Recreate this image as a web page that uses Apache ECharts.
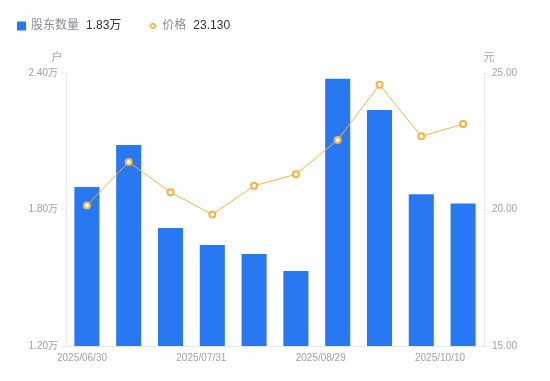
<!DOCTYPE html>
<html>
<head>
<meta charset="utf-8">
<script src="https://cdn.jsdelivr.net/npm/echarts@6/dist/echarts.min.js"></script>
<style>
html,body{margin:0;padding:0;background:#fff;}
#chart{width:550px;height:381px;}
</style>
</head>
<body>
<div id="chart"></div>
<script>
var categories = ['2025/06/30','2025/07/10','2025/07/18','2025/07/31','2025/08/08','2025/08/20','2025/08/29','2025/09/10','2025/09/19','2025/10/10'];
var holders = [1.899, 2.083, 1.719, 1.644, 1.604, 1.530, 2.375, 2.237, 1.867, 1.826];
var prices = [20.15, 21.74, 20.63, 19.82, 20.87, 21.29, 22.55, 24.57, 22.68, 23.13];
var xTickLabels = ['2025/06/30','2025/07/31','2025/08/29','2025/10/10'];
var leftTicks = {min: 1.2, max: 2.4, interval: 0.6};
var rightTicks = {min: 15, max: 25, interval: 5};

var labelColor = '#9ea2ae';
var lineColor = '#e8e9ec';
var barColor = '#2878f4';
var priceColor = '#f7b33d';
var font = 'Arial, "Liberation Sans", "Noto Sans CJK SC", sans-serif';

var lineIcon = 'path://M5,0 L5,0 Z M5,9 L5,9 Z ' +
  'M0,4 L2,4 L2,5 L0,5 Z M8,4 L10,4 L10,5 L8,5 Z ' +
  'M8.2,4.5 A3.2,3.2 0 1,0 1.8,4.5 A3.2,3.2 0 1,0 8.2,4.5 Z ' +
  'M6.5,4.5 A1.5,1.5 0 1,1 3.5,4.5 A1.5,1.5 0 1,1 6.5,4.5 Z';

var chart = echarts.init(document.getElementById('chart'));
chart.setOption({
  animation: false,
  textStyle: {fontFamily: font},
  legend: {
    left: 12,
    top: 15,
    itemWidth: 9,
    itemHeight: 9,
    itemGap: 27,
    data: [
      {name: '股东数量', icon: 'rect'},
      {name: '价格', icon: lineIcon}
    ],
    formatter: function (name) {
      var v = name === '股东数量' ? holders[holders.length - 1].toFixed(2) + '万' : prices[prices.length - 1].toFixed(3);
      return '{n|' + name + '}{v|' + v + '}';
    },
    textStyle: {
      rich: {
        n: {color: '#8a8d96', fontSize: 12, fontFamily: font},
        v: {color: '#333', fontSize: 12, padding: [0, 0, 0, 7], fontFamily: font}
      }
    }
  },
  grid: [
    {left: 66, right: 66, top: 73, bottom: 35},
    {left: 82, right: 110, top: 73, bottom: 35, show: false}
  ],
  xAxis: [
    {
      type: 'category',
      gridIndex: 0,
      data: categories,
      axisLine: {show: true, lineStyle: {color: lineColor}},
      axisTick: {show: false},
      axisLabel: {show: false},
      splitLine: {show: false}
    },
    {
      type: 'category',
      gridIndex: 1,
      data: xTickLabels,
      boundaryGap: false,
      axisLine: {show: false},
      axisTick: {show: false},
      axisLabel: {color: labelColor, fontSize: 10, margin: 7, interval: 0},
      splitLine: {show: false}
    }
  ],
  yAxis: [
    {
      type: 'value',
      gridIndex: 0,
      min: leftTicks.min, max: leftTicks.max, interval: leftTicks.interval,
      name: '户',
      nameGap: 10,
      nameTextStyle: {color: labelColor, fontSize: 11, padding: [0, 18, 0, 0]},
      axisLine: {show: true, lineStyle: {color: lineColor}},
      axisTick: {show: true, length: 5, lineStyle: {color: lineColor}},
      axisLabel: {color: labelColor, fontSize: 10, margin: 8, formatter: function (v) { return v.toFixed(2) + '万'; }},
      splitLine: {show: false}
    },
    {
      type: 'value',
      gridIndex: 0,
      position: 'right',
      min: rightTicks.min, max: rightTicks.max, interval: rightTicks.interval,
      name: '元',
      nameGap: 10,
      nameTextStyle: {color: labelColor, fontSize: 11, padding: [0, 0, 0, 10]},
      axisLine: {show: true, lineStyle: {color: lineColor}},
      axisTick: {show: true, length: 5, lineStyle: {color: lineColor}},
      axisLabel: {color: labelColor, fontSize: 10, margin: 8, formatter: function (v) { return v.toFixed(2); }},
      splitLine: {show: false}
    },
    {
      type: 'value',
      gridIndex: 1,
      show: false
    }
  ],
  series: [
    {
      name: '股东数量',
      type: 'bar',
      xAxisIndex: 0,
      yAxisIndex: 0,
      barWidth: '60%',
      itemStyle: {color: barColor},
      data: holders
    },
    {
      name: '价格',
      type: 'line',
      xAxisIndex: 0,
      yAxisIndex: 1,
      symbol: 'emptyCircle',
      symbolSize: 6,
      lineStyle: {color: priceColor, width: 1},
      itemStyle: {color: priceColor, borderWidth: 2},
      data: prices
    }
  ]
});
</script>
</body>
</html>
